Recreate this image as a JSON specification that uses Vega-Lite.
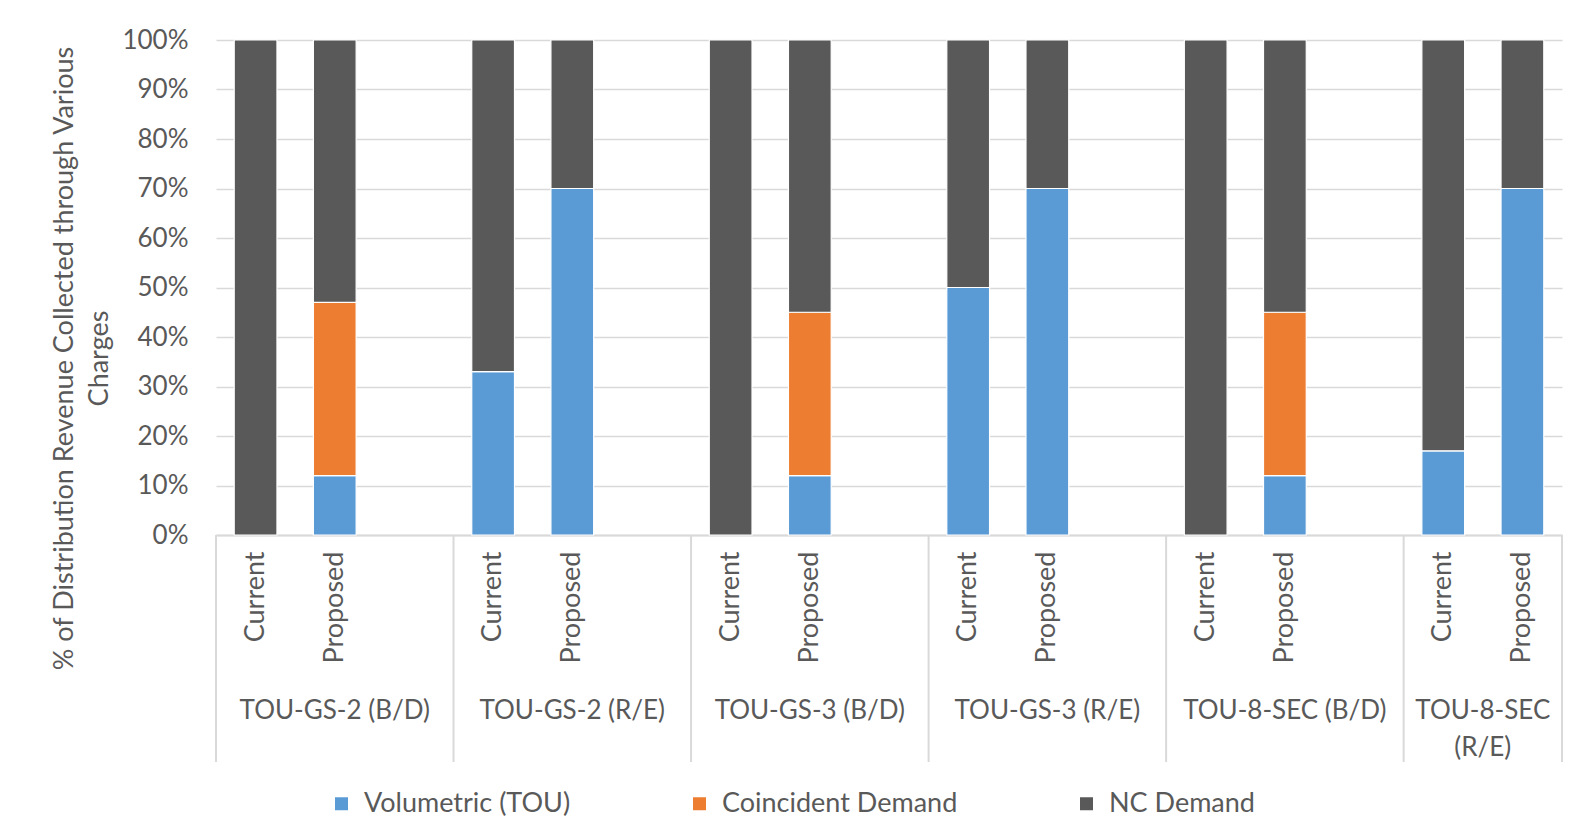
{
  "$schema": "https://vega.github.io/schema/vega-lite/v6.json",
  "autosize": {"type": "none"},
  "width": 1346,
  "height": 495,
  "padding": {"left": 216, "top": 40, "right": 18, "bottom": 303},
  "background": "white",
  "config": {
    "font": "Lato",
    "view": {"stroke": null},
    "text": {"font": "Lato"}
  },
  "datasets": {
    "bars": [
      {"slot": "1 Current", "category": "NC Demand", "k": 3, "value": 1.00},
      {"slot": "1 Proposed", "category": "Volumetric (TOU)", "k": 1, "value": 0.12},
      {"slot": "1 Proposed", "category": "Coincident Demand", "k": 2, "value": 0.35},
      {"slot": "1 Proposed", "category": "NC Demand", "k": 3, "value": 0.53},
      {"slot": "2 Current", "category": "Volumetric (TOU)", "k": 1, "value": 0.33},
      {"slot": "2 Current", "category": "NC Demand", "k": 3, "value": 0.67},
      {"slot": "2 Proposed", "category": "Volumetric (TOU)", "k": 1, "value": 0.70},
      {"slot": "2 Proposed", "category": "NC Demand", "k": 3, "value": 0.30},
      {"slot": "3 Current", "category": "NC Demand", "k": 3, "value": 1.00},
      {"slot": "3 Proposed", "category": "Volumetric (TOU)", "k": 1, "value": 0.12},
      {"slot": "3 Proposed", "category": "Coincident Demand", "k": 2, "value": 0.33},
      {"slot": "3 Proposed", "category": "NC Demand", "k": 3, "value": 0.55},
      {"slot": "4 Current", "category": "Volumetric (TOU)", "k": 1, "value": 0.50},
      {"slot": "4 Current", "category": "NC Demand", "k": 3, "value": 0.50},
      {"slot": "4 Proposed", "category": "Volumetric (TOU)", "k": 1, "value": 0.70},
      {"slot": "4 Proposed", "category": "NC Demand", "k": 3, "value": 0.30},
      {"slot": "5 Current", "category": "NC Demand", "k": 3, "value": 1.00},
      {"slot": "5 Proposed", "category": "Volumetric (TOU)", "k": 1, "value": 0.12},
      {"slot": "5 Proposed", "category": "Coincident Demand", "k": 2, "value": 0.33},
      {"slot": "5 Proposed", "category": "NC Demand", "k": 3, "value": 0.55},
      {"slot": "6 Current", "category": "Volumetric (TOU)", "k": 1, "value": 0.17},
      {"slot": "6 Current", "category": "NC Demand", "k": 3, "value": 0.83},
      {"slot": "6 Proposed", "category": "Volumetric (TOU)", "k": 1, "value": 0.70},
      {"slot": "6 Proposed", "category": "NC Demand", "k": 3, "value": 0.30}
    ],
    "starts": [
      {"slot": "1 Current"}, {"slot": "2 Current"}, {"slot": "3 Current"},
      {"slot": "4 Current"}, {"slot": "5 Current"}, {"slot": "6 Current"}
    ],
    "ends": [{"slot": "6 Proposed"}],
    "groups": [
      {"slot": "1 Proposed", "label": "TOU-GS-2 (B/D)"},
      {"slot": "2 Proposed", "label": "TOU-GS-2 (R/E)"},
      {"slot": "3 Proposed", "label": "TOU-GS-3 (B/D)"},
      {"slot": "4 Proposed", "label": "TOU-GS-3 (R/E)"},
      {"slot": "5 Proposed", "label": "TOU-8-SEC (B/D)"}
    ],
    "lastgroup": [
      {"slot": "6 Proposed", "label": "TOU-8-SEC\n(R/E)"}
    ]
  },
  "layer": [
    {
      "data": {"name": "bars"},
      "mark": {"type": "bar", "width": {"band": 0.54}, "stroke": "white", "strokeWidth": 1.2},
      "encoding": {
        "x": {
          "field": "slot", "type": "nominal",
          "scale": {
            "domain": ["1 Current", "1 Proposed", "1 gap", "2 Current", "2 Proposed", "2 gap", "3 Current", "3 Proposed", "3 gap", "4 Current", "4 Proposed", "4 gap", "5 Current", "5 Proposed", "5 gap", "6 Current", "6 Proposed"],
            "paddingInner": 0, "paddingOuter": 0
          },
          "axis": {
            "title": null,
            "labelExpr": "indexof(datum.value, 'Current') >= 0 ? 'Current' : (indexof(datum.value, 'Proposed') >= 0 ? 'Proposed' : '')",
            "labelAngle": -90,
            "labelAlign": "right",
            "labelBaseline": "middle",
            "labelFontSize": 27,
            "labelFont": "Lato",
            "labelColor": "#595959",
            "labelPadding": 16,
            "ticks": false,
            "domainColor": "#D9D9D9",
            "domainWidth": 2,
            "grid": false
          }
        },
        "y": {
          "field": "value", "type": "quantitative", "stack": "zero",
          "scale": {"domain": [0, 1], "nice": false},
          "axis": {
            "values": [0, 0.1, 0.2, 0.3, 0.4, 0.5, 0.6, 0.7, 0.8, 0.9, 1],
            "format": ".0%",
            "labelFontSize": 26,
            "labelFont": "Lato",
            "labelColor": "#595959",
            "labelPadding": 28,
            "ticks": false,
            "domain": false,
            "grid": true,
            "gridColor": "#D9D9D9",
            "gridWidth": 1.5,
            "title": ["% of Distribution Revenue Collected through Various", "Charges"],
            "titleFont": "Lato",
            "titleFontSize": 27,
            "titleFontWeight": "normal",
            "titleColor": "#595959",
            "titleAngle": -90,
            "titleAlign": "center",
            "titleBaseline": "middle",
            "titleLineHeight": 35,
            "titleX": -152,
            "titleY": 318
          }
        },
        "color": {
          "field": "category", "type": "nominal",
          "scale": {
            "domain": ["Volumetric (TOU)", "Coincident Demand", "NC Demand"],
            "range": ["#5B9BD5", "#ED7D31", "#595959"]
          },
          "legend": {
            "title": null,
            "orient": "none",
            "direction": "horizontal",
            "legendX": 112,
            "legendY": 750,
            "symbolType": "square",
            "symbolSize": 169,
            "symbolStrokeWidth": 0,
            "labelFont": "Lato",
            "labelFontSize": 27,
            "labelColor": "#595959",
            "labelOffset": 9,
            "columnPadding": 115,
            "labelLimit": 400
          }
        },
        "order": {"field": "k", "type": "quantitative", "sort": "ascending"}
      }
    },
    {
      "data": {"name": "starts"},
      "mark": {"type": "rule", "color": "#D9D9D9", "strokeWidth": 2},
      "encoding": {
        "x": {"field": "slot", "type": "nominal", "bandPosition": 0},
        "y": {"datum": 0},
        "y2": {"datum": -0.4586}
      }
    },
    {
      "data": {"name": "ends"},
      "mark": {"type": "rule", "color": "#D9D9D9", "strokeWidth": 2},
      "encoding": {
        "x": {"field": "slot", "type": "nominal", "bandPosition": 1},
        "y": {"datum": 0},
        "y2": {"datum": -0.4586}
      }
    },
    {
      "data": {"name": "groups"},
      "mark": {"type": "text", "font": "Lato", "fontSize": 26, "color": "#595959", "align": "center", "baseline": "top", "lineHeight": 37},
      "encoding": {
        "x": {"field": "slot", "type": "nominal", "bandPosition": 0.5},
        "y": {"datum": -0.3293},
        "text": {"field": "label"}
      }
    },
    {
      "data": {"name": "lastgroup"},
      "mark": {"type": "text", "font": "Lato", "fontSize": 26, "color": "#595959", "align": "center", "baseline": "top", "lineHeight": 37, "lineBreak": "\n"},
      "encoding": {
        "x": {"field": "slot", "type": "nominal", "bandPosition": 0},
        "y": {"datum": -0.3293},
        "text": {"field": "label"}
      }
    }
  ]
}
